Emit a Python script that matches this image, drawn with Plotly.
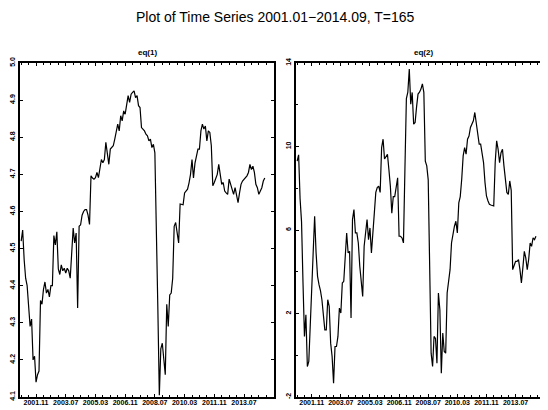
import plotly.graph_objects as go

# ---- data ----
periods = [f"{2001 + m // 12}.{m % 12 + 1:02d}" for m in range(165)]
tick_labels = ["2001.11", "2003.07", "2005.03", "2006.11", "2008.07", "2010.03", "2011.11", "2013.07"]

eq1 = [
    4.52, 4.55, 4.47, 4.42, 4.40, 4.33, 4.29, 4.31, 4.20, 4.21,
    4.14, 4.16, 4.17, 4.36, 4.35, 4.39, 4.41, 4.38, 4.39, 4.37,
    4.40, 4.40, 4.535, 4.51, 4.545, 4.445, 4.43, 4.456, 4.44, 4.447,
    4.434, 4.447, 4.44, 4.42, 4.50, 4.555, 4.515, 4.542, 4.34, 4.56,
    4.564, 4.59, 4.60, 4.605, 4.605, 4.59, 4.565, 4.696, 4.69, 4.687,
    4.691, 4.705, 4.691, 4.718, 4.74, 4.731, 4.74, 4.786, 4.75, 4.727,
    4.768, 4.772, 4.777, 4.795, 4.817, 4.835, 4.817, 4.858, 4.844, 4.871,
    4.862, 4.894, 4.912, 4.894, 4.916, 4.921, 4.925, 4.907, 4.912, 4.885,
    4.88, 4.826, 4.822, 4.817, 4.808, 4.804, 4.79, 4.795, 4.772, 4.781,
    4.758, 4.58, 4.34, 4.105, 4.23, 4.245, 4.20, 4.16, 4.35, 4.29,
    4.375, 4.38, 4.42, 4.56, 4.57, 4.545, 4.515, 4.62, 4.62, 4.618,
    4.65, 4.655, 4.66, 4.677, 4.70, 4.74, 4.69, 4.73, 4.754, 4.768,
    4.768, 4.817, 4.835, 4.822, 4.83, 4.79, 4.817, 4.813, 4.777, 4.669,
    4.678, 4.69, 4.70, 4.727, 4.705, 4.673, 4.678, 4.655, 4.65, 4.646,
    4.687, 4.673, 4.655, 4.646, 4.664, 4.645, 4.624, 4.65, 4.673, 4.682,
    4.686, 4.691, 4.696, 4.705, 4.727, 4.713, 4.722, 4.705, 4.673, 4.664,
    4.646, 4.655, 4.664, 4.682, 4.69,
]

eq2 = [
    9.3, 9.6, 7.5, 6.4, 3.5, 0.9, 1.94, -0.54, -0.3, 1.5,
    3.62, 4.58, 6.66, 4.9, 3.78, 3.38, 3.1, 2.66, 1.94, 1.22,
    1.22, 2.66, 2.34, 0.58, -0.06, -1.34, 0.42, 0.42, 0.9, 2.26,
    2.02, 3.46, 3.54, 4.9, 5.86, 4.9, 4.98, 1.78, 6.5, 6.98,
    5.86, 5.86, 5.38, 4.26, 3.5, 2.82, 5.22, 5.86, 6.5, 5.54,
    6.1, 4.9, 6.1, 6.82, 7.8, 8.03, 8.1, 7.8, 9.95, 10.35,
    9.4, 9.55, 9.63, 8.9, 8.1, 6.8, 7.6, 7.6, 8.2, 8.5,
    5.7, 5.7, 5.62, 5.38, 8.9, 12.3, 12.6, 13.71, 12.03, 12.59,
    11.07, 11.15, 11.9, 12.51, 12.6, 12.75, 13.0, 12.59, 9.3, 9.07,
    8.4, 4.3, 0.1, -0.54, 0.9, 0.8, -0.38, 2.98, 2.18, -0.86,
    1.06, 0.18, 0.1, 2.98, 3.62, 4.1, 5.38, 5.9, 6.18, 6.42,
    5.86, 7.3, 7.6, 8.43, 9.55, 9.95, 9.63, 10.35, 10.5, 10.91,
    11.07, 11.23, 11.63, 11.15, 10.59, 10.11, 10.11, 9.7, 9.23, 8.27,
    7.63, 7.4, 7.23, 7.2, 7.18, 7.15, 9.23, 10.27, 9.87, 9.23,
    9.7, 9.87, 9.07, 8.43, 7.8, 7.7, 8.35, 7.9, 4.1, 4.3,
    4.5, 4.5, 4.58, 4.1, 3.46, 4.2, 4.98, 4.66, 4.1, 4.6,
    5.38, 5.22, 5.62, 5.54, 5.7,
]

y1_ticks = [4.1, 4.2, 4.3, 4.4, 4.5, 4.6, 4.7, 4.8, 4.9, 5.0]
y2_ticks = [-2, 2, 6, 10, 14]

# ---- figure ----
idx = list(range(len(periods)))
tick_idx = [periods.index(t) for t in tick_labels]

fig = go.Figure()
fig.add_trace(go.Scatter(x=idx, y=eq1, mode="lines", line=dict(color="black", width=1.2),
                         xaxis="x", yaxis="y", showlegend=False, hoverinfo="skip"))
fig.add_trace(go.Scatter(x=idx, y=eq2, mode="lines", line=dict(color="black", width=1.2),
                         xaxis="x2", yaxis="y2", showlegend=False, hoverinfo="skip"))

# page body has an 8px default margin; size the figure to fill the rest of the window
OFF = 8
W, H = 548 - OFF, 410 - OFF

def px(p):
    return (p - OFF) / W

def py(p):
    return 1 - (p - OFF) / H

yd = [py(397), py(63)]
xtickfont = dict(family="Liberation Sans", size=7, color="black", weight="bold")
ytickfont = dict(family="Liberation Sans", size=7, color="black", weight="bold")

def xax(domain, anchor):
    return dict(domain=domain, anchor=anchor, range=[-0.8, 170.2], automargin=False,
                tickmode="array", tickvals=tick_idx, ticktext=tick_labels, tickangle=0,
                ticks="inside", ticklen=3, tickwidth=1, tickcolor="black",
                minor=dict(tick0=0, dtick=5, ticks="inside", ticklen=2, tickcolor="black"),
                showline=True, linewidth=2, linecolor="black", mirror="allticks",
                showgrid=False, zeroline=False, tickfont=xtickfont, ticklabelstandoff=-2)

def yax(domain, anchor, rng, ticks, minor_dtick):
    d = dict(domain=domain, anchor=anchor, range=rng, automargin=False,
             tickmode="array", tickvals=ticks,
             ticktext=[f"{t:g}" if isinstance(t, int) else f"{t:.1f}" for t in ticks],
             ticks="inside", ticklen=3, tickwidth=1, tickcolor="black",
             showline=True, linewidth=2, linecolor="black", mirror="allticks",
             showgrid=False, zeroline=False, tickangle=-90, tickfont=ytickfont)
    if minor_dtick:
        d["minor"] = dict(tick0=rng[0], dtick=minor_dtick, ticks="inside", ticklen=2, tickcolor="black")
    return d

fig.update_layout(
    width=W, height=H,
    margin=dict(l=0, r=0, t=0, b=0, autoexpand=False),
    paper_bgcolor="white", plot_bgcolor="white",
    xaxis=xax([px(20), px(274)], "y"),
    yaxis=yax(yd, "x", [4.1, 5.0], y1_ticks, None),
    xaxis2=xax([px(296), px(545)], "y2"),
    yaxis2=yax(yd, "x2", [-2, 14], y2_ticks, 2),
    annotations=[
        dict(text="Plot of Time Series 2001.01\u22122014.09, T=165", x=px(275), y=py(17),
             xref="paper", yref="paper", showarrow=False, xanchor="center", yanchor="middle",
             font=dict(family="Liberation Sans", size=14, color="black")),
        dict(text="eq(1)", x=px(147), y=py(53), xref="paper", yref="paper", showarrow=False,
             xanchor="center", yanchor="middle",
             font=dict(family="Liberation Sans", size=8, color="black", weight="bold")),
        dict(text="eq(2)", x=px(423), y=py(53), xref="paper", yref="paper", showarrow=False,
             xanchor="center", yanchor="middle",
             font=dict(family="Liberation Sans", size=8, color="black", weight="bold")),
    ],
)

fig.write_html("out.html")
